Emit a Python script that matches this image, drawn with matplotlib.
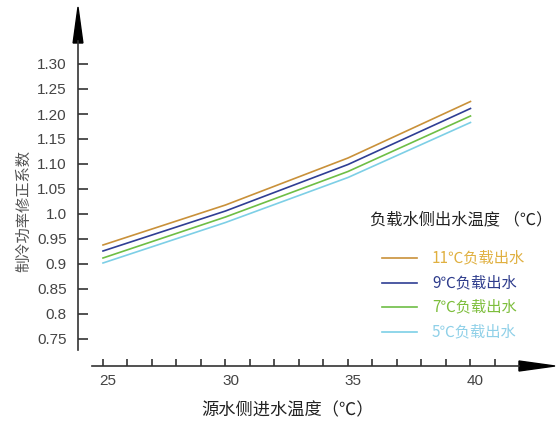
import numpy as np
import matplotlib
matplotlib.use("Agg")
import matplotlib.pyplot as plt
from matplotlib.lines import Line2D
from matplotlib.transforms import ScaledTranslation

plt.rcParams['font.family'] = ['Liberation Sans', 'Noto Sans CJK SC', 'DejaVu Sans']

# data
source_temp = [25, 30, 35, 40]
series_labels = ["11℃负载出水", "9℃负载出水", "7℃负载出水", "5℃负载出水"]
series_values = [
    [0.938, 1.018, 1.112, 1.225],
    [0.926, 1.006, 1.099, 1.211],
    [0.912, 0.994, 1.085, 1.196],
    [0.902, 0.983, 1.073, 1.183],
]
y_ticks = [0.75, 0.80, 0.85, 0.90, 0.95, 1.00, 1.05, 1.10, 1.15, 1.20, 1.25, 1.30]
y_tick_labels = ["0.75", "0.8", "0.85", "0.9", "0.95", "1.0", "1.05", "1.10",
                 "1.15", "1.20", "1.25", "1.30"]
x_ticks = [25, 30, 35, 40]
x_minor = list(range(25, 42))

line_colors = ["#c9913a", "#2f3e94", "#6ebe45", "#7dcfe6"]
text_colors = ["#e0b040", "#2e3c8c", "#7dbe3c", "#8fd0e8"]
axis_col = "#333333"

W, H = 556, 426
fig = plt.figure(figsize=(W / 100, H / 100), dpi=100)
ax = fig.add_axes([78 / W, 1 - 366 / H, 477 / W, 361 / H])
ax.set_xlim(23.98, 43.45)
ax.set_ylim(0.696, 1.418)
for s in ax.spines.values():
    s.set_visible(False)

for vals, c in zip(series_values, line_colors):
    ax.plot(source_temp, vals, color=c, lw=1.2)

# axis lines with arrow heads
ax.plot([23.98, 23.98], [0.728, 1.345], color=axis_col, lw=1.2, clip_on=False)
ax.fill([23.98 - 0.2, 23.98 + 0.2, 23.98], [1.342, 1.342, 1.414],
        color="black", clip_on=False)
ax.plot([24.55, 42.0], [0.696, 0.696], color=axis_col, lw=1.2, clip_on=False)
ax.fill([41.98, 41.98, 43.45], [0.686, 0.706, 0.696],
        color="black", clip_on=False)

ax.set_yticks(y_ticks)
ax.set_yticklabels(y_tick_labels)
ax.set_xticks(x_ticks)
ax.set_xticks(x_minor, minor=True)
ax.tick_params(axis='y', direction='in', length=7, width=1.2, color=axis_col,
               labelsize=11, labelcolor="#444444", pad=8)
ax.tick_params(axis='x', which='both', direction='in', length=5, width=1.2,
               color=axis_col, labelsize=11, labelcolor="#444444", pad=6)
off = ScaledTranslation(5 / 100, 0, fig.dpi_scale_trans)
for lbl in ax.get_xticklabels():
    lbl.set_transform(lbl.get_transform() + off)

cjk = ['Noto Sans CJK SC', 'DejaVu Sans']
fig.text(24 / W, 1 - 211 / H, "制冷功率修正系数", rotation=90, ha='center',
         va='center', fontsize=11, color="#555555", family=cjk)
fig.text(201 / W, 1 - 410 / H, "源水侧进水温度（℃）", ha='left', va='center',
         fontsize=12.4, color="#222222", family=cjk)

# legend drawn by hand
fig.text(370 / W, 1 - 220 / H, "负载水侧出水温度 （℃）", ha='left', va='center',
         fontsize=11.7, color="#222222", family=cjk)
rows = [258, 283, 307, 332]
for py, lab, lc, tc in zip(rows, series_labels, line_colors, text_colors):
    yf = 1 - py / H
    fig.add_artist(Line2D([382 / W, 417 / W], [yf, yf], color=lc, lw=1.2))
    fig.text(432 / W, yf, lab, ha='left', va='center', fontsize=11,
             color=tc, family=cjk)

fig.savefig("out.png", dpi=100)
